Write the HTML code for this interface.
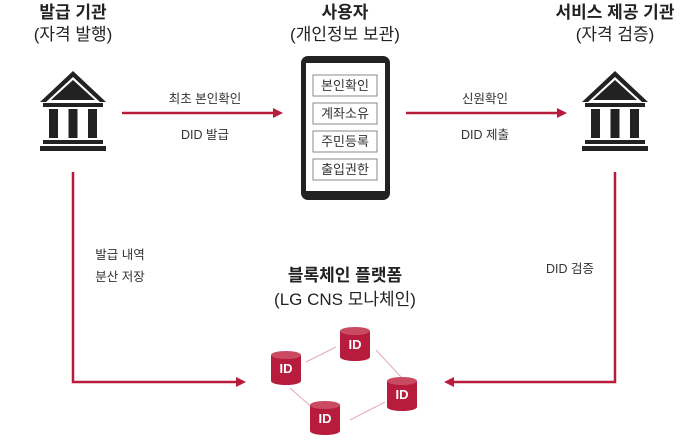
<!DOCTYPE html>
<html><head><meta charset="utf-8"><style>
html,body{margin:0;padding:0;background:#fff}
body{width:700px;height:440px;overflow:hidden;position:relative;font-family:"Liberation Sans","Noto Sans CJK KR",sans-serif;color:#222}
.t{position:absolute;text-align:center;white-space:nowrap}
.h{font-size:17px;font-weight:bold;line-height:22px}
.s{font-size:12.5px;color:#333}
</style></head><body>
<div class="t h" style="left:0;width:146px;top:2px">발급 기관<br><span style="font-weight:normal">(자격 발행)</span></div>
<div class="t h" style="left:265px;width:160px;top:2px">사용자<br><span style="font-weight:normal">(개인정보 보관)</span></div>
<div class="t h" style="left:540px;width:150px;top:2px">서비스 제공 기관<br><span style="font-weight:normal">(자격 검증)</span></div>
<div class="t s" style="left:130px;width:150px;top:88px">최초 본인확인</div>
<div class="t s" style="left:130px;width:150px;top:124px">DID 발급</div>
<div class="t s" style="left:410px;width:150px;top:88px">신원확인</div>
<div class="t s" style="left:410px;width:150px;top:124px">DID 제출</div>
<div class="t s" style="left:80px;width:80px;top:244px;line-height:22px">발급 내역<br>분산 저장</div>
<div class="t s" style="left:530px;width:80px;top:258px">DID 검증</div>
<div class="t h" style="left:245px;width:200px;top:264px;line-height:24px">블록체인 플랫폼<br><span style="font-weight:normal">(LG CNS 모나체인)</span></div>
<svg width="700" height="440" style="position:absolute;left:0;top:0">
<defs>
<g id="bank">
<polygon points="-33,102 0,71 33,102 27,102 0,77 -27,102" fill="#222"/>
<polygon points="-22,100 0,80 22,100" fill="#222"/>
<rect x="-30" y="103" width="60" height="4" fill="#222"/>
<rect x="-24" y="109" width="9" height="29" fill="#222"/>
<rect x="-4.5" y="109" width="9" height="29" fill="#222"/>
<rect x="15" y="109" width="9" height="29" fill="#222"/>
<rect x="-30" y="140" width="60" height="4" fill="#222"/>
<rect x="-33" y="146" width="66" height="5" fill="#222"/>
</g>
<g id="db">
<rect x="-15" y="-13" width="30" height="26" fill="#b71c3c"/>
<ellipse cx="0" cy="13" rx="15" ry="4" fill="#b71c3c"/>
<ellipse cx="0" cy="-13" rx="15" ry="4" fill="#c94a62"/>
<text x="0" y="5" text-anchor="middle" font-family="Liberation Sans" font-weight="bold" font-size="13" fill="#fff">ID</text>
</g>
</defs>
<use href="#bank" x="73" y="0"/>
<use href="#bank" x="615" y="0"/>
<g stroke="#b71c3c" stroke-width="2.5" fill="none">
<line x1="122" y1="113" x2="276" y2="113"/>
<line x1="406" y1="113" x2="560" y2="113"/>
<polyline points="73,172 73,382 238,382"/>
<polyline points="615,172 615,382 452,382"/>
</g>
<g fill="#b71c3c">
<polygon points="283,113 273,108 273,118"/>
<polygon points="567,113 557,108 557,118"/>
<polygon points="246,382 236,377 236,387"/>
<polygon points="444,382 454,377 454,387"/>
</g>
<rect x="301" y="56" width="89" height="144" rx="7" fill="#222"/>
<rect x="306" y="63" width="79" height="128" fill="#fff"/>
<g fill="#fff" stroke="#888" stroke-width="1">
<rect x="313" y="75" width="64" height="21"/><rect x="313" y="103" width="64" height="21"/>
<rect x="313" y="131" width="64" height="21"/><rect x="313" y="159" width="64" height="21"/>
</g>
<g font-family="Liberation Sans, Noto Sans CJK KR, sans-serif" font-size="13" fill="#333" text-anchor="middle">
<text x="345" y="90">본인확인</text><text x="345" y="118">계좌소유</text>
<text x="345" y="146">주민등록</text><text x="345" y="174">출입권한</text>
</g>
<g stroke="#e3aab5" stroke-width="1">
<line x1="306" y1="362" x2="336" y2="347"/><line x1="376" y1="350" x2="402" y2="378"/>
<line x1="290" y1="388" x2="315" y2="410"/><line x1="350" y1="420" x2="385" y2="402"/>
</g>
<use href="#db" x="286" y="368"/>
<use href="#db" x="355" y="344"/>
<use href="#db" x="402" y="394"/>
<use href="#db" x="325" y="418"/>
</svg>
</body></html>
